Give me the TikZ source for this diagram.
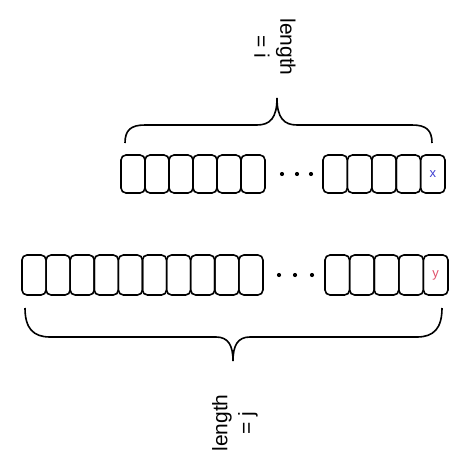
\documentclass[tikz,border=0pt]{standalone}
\usepackage{fontspec}
\setmainfont{Liberation Sans}
\usetikzlibrary{positioning}

\tikzset{
    cell/.style={draw=borderColour, line width=1.6pt, rounded corners=5pt, minimum height=38pt, inner sep=0pt},
    brace/.style={draw=borderColour, line width=1.6pt},
    lengthLabel/.style={align=center, font=\fontsize{21}{26}\selectfont, inner sep=0pt}
}

\begin{document}
\begin{tikzpicture}[x=1pt, y=-1pt]
    \definecolor{borderColour}{HTML}{000000}
    \definecolor{xColour}{HTML}{3F3FD0}
    \definecolor{yColour}{HTML}{E0506A}

    \useasboundingbox (0,0) rectangle (469,466);

    % Draw top array (length i)
    \foreach \k in {0,...,5}
        \node[cell, minimum width=24pt] (top\k) at (133+24*\k,174) {};
    \foreach \k in {0,...,4}
        \node[cell, minimum width=24.4pt] (topR\k) at (335.2+24.4*\k,174) {};
    \foreach \x in {282,297,311}
        \fill[borderColour] (\x,174) circle (2.1pt);
    \node[text=xColour, font=\fontsize{13}{15}\selectfont] (xVal) at (topR4) {x};

    % Draw bottom array (length j)
    \foreach \k in {0,...,9}
        \node[cell, minimum width=24.1pt, minimum height=40pt] (bot\k) at (34+24.1*\k,275) {};
    \foreach \k in {0,...,4}
        \node[cell, minimum width=24.6pt, minimum height=40pt] (botR\k) at (337.3+24.6*\k,275) {};
    \foreach \x in {279,295,312}
        \fill[borderColour] (\x,275) circle (2.1pt);
    \node[text=yColour, font=\fontsize{13}{15}\selectfont] (yVal) at (botR4) {y};

    % Top brace
    \draw[brace] (125,143) .. controls (125,130) and (131,125) .. (145,125) -- (257,125)
        .. controls (270,125) and (277,118) .. (277,98)
        .. controls (277,118) and (284,125) .. (297,125) -- (412,125)
        .. controls (426,125) and (432,130) .. (432,143);
    \node[lengthLabel, rotate=-90] (lenI) at (275,47) {length\\= i};

    % Bottom brace
    \draw[brace] (25,308) .. controls (25,328) and (33,337) .. (50,337) -- (216,337)
        .. controls (228,337) and (233,345) .. (233,361)
        .. controls (233,345) and (238,337) .. (250,337) -- (417,337)
        .. controls (434,337) and (442,328) .. (442,308);
    \node[lengthLabel, rotate=90] (lenJ) at (235,423) {length\\= j};

\end{tikzpicture}
\end{document}
